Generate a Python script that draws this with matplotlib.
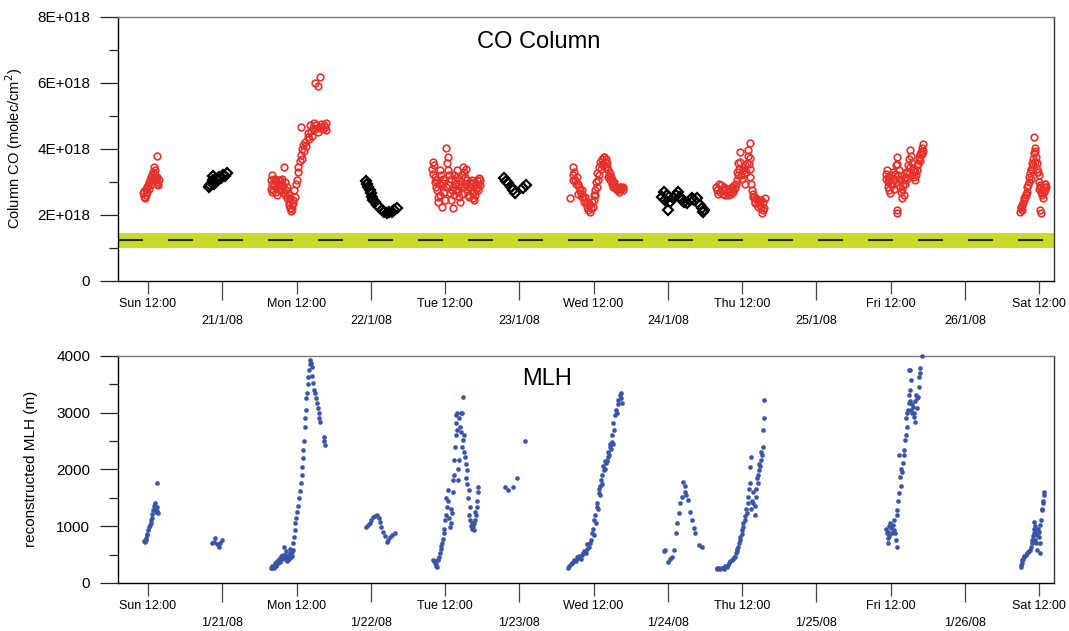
import matplotlib
matplotlib.use("Agg")
import matplotlib.pyplot as plt
import numpy as np
from matplotlib.ticker import FixedLocator, MultipleLocator, FuncFormatter

plt.rcParams['font.family'] = ['Liberation Sans', 'DejaVu Sans']

# time axis: hours since 2008-01-20 00:00
noon_hours = [12, 36, 60, 84, 108, 132, 156]
noon_labels = ['Sun 12:00', 'Mon 12:00', 'Tue 12:00', 'Wed 12:00',
               'Thu 12:00', 'Fri 12:00', 'Sat 12:00']
midnight_hours = [24, 48, 72, 96, 120, 144]
co_date_labels = ['21/1/08', '22/1/08', '23/1/08', '24/1/08', '25/1/08', '26/1/08']
mlh_date_labels = ['1/21/08', '1/22/08', '1/23/08', '1/24/08', '1/25/08', '1/26/08']

# CO column, daytime (red circles), (hour, 1E+018 molec/cm2)
co_day = [
    (11.2, 2.66), (11.3, 2.55), (11.4, 2.72), (11.5, 2.50), (11.6, 2.62), (11.7, 2.78),
    (11.8, 2.86), (11.9, 2.70), (12.0, 2.92), (12.1, 2.80), (12.2, 3.00), (12.3, 3.06),
    (12.4, 2.95), (12.5, 3.15), (12.6, 3.21), (12.7, 3.10), (12.8, 3.30), (12.9, 3.46),
    (13.0, 3.25), (13.1, 3.36), (13.2, 3.15), (13.3, 3.05), (13.4, 3.16), (13.4, 2.95),
    (13.5, 3.00), (13.6, 2.91), (13.7, 3.06), (13.4, 3.79),
    # Monday
    (31.8, 2.80), (31.9, 3.05), (32.0, 3.21), (32.1, 2.95), (32.2, 2.76), (32.4, 2.90),
    (32.5, 3.10), (32.6, 2.70), (32.8, 2.61), (32.9, 2.85), (33.0, 3.05), (33.2, 2.95),
    (33.3, 2.75), (33.5, 2.90), (33.6, 3.10), (33.9, 3.46), (33.8, 2.85), (34.0, 2.70),
    (34.1, 3.00), (34.2, 2.60), (34.4, 2.86), (34.5, 2.50), (34.7, 2.40), (34.8, 2.30),
    (34.95, 2.20), (35.1, 2.12), (35.2, 2.30), (35.3, 2.18), (35.5, 2.45), (35.6, 2.76),
    (35.75, 2.55), (35.9, 2.95), (36.0, 3.06), (36.2, 3.30), (36.3, 3.46), (36.5, 3.65),
    (36.7, 3.82), (36.8, 4.00), (36.7, 4.68), (36.9, 3.70), (37.0, 4.12), (37.2, 3.95),
    (37.4, 4.22), (37.6, 4.10), (37.8, 4.35), (37.9, 4.48), (38.0, 4.30), (38.2, 4.73),
    (38.3, 4.55), (38.5, 4.40), (38.6, 4.65), (38.8, 4.78), (39.0, 4.60), (39.2, 4.72),
    (39.4, 4.50), (39.6, 4.68), (39.8, 4.63), (40.0, 4.75), (40.2, 4.60), (40.4, 4.72),
    (40.6, 4.68), (40.8, 4.78), (40.8, 4.58), (39.0, 5.99), (39.5, 5.91), (39.8, 6.17),
    (32.0, 2.70), (32.3, 3.10), (32.7, 3.00), (33.1, 2.80), (33.4, 3.05), (33.7, 2.95),
    (34.3, 2.75), (34.6, 2.65), (35.0, 2.50), (35.4, 2.35),
    # Tuesday
    (57.9, 3.40), (58.0, 3.62), (58.1, 3.25), (58.3, 3.00), (58.4, 3.16), (58.5, 2.85),
    (58.7, 2.76), (58.8, 2.55), (58.9, 2.40), (59.1, 2.60), (59.2, 3.36), (59.3, 2.90),
    (59.5, 2.25), (59.6, 3.10), (59.7, 2.96), (59.9, 2.70), (60.0, 2.45), (60.2, 4.02),
    (60.3, 3.57), (60.4, 3.77), (60.5, 3.35), (60.6, 3.21), (60.7, 2.90), (60.8, 2.66),
    (61.0, 2.45), (61.25, 2.20), (61.3, 2.86), (61.5, 2.60), (61.6, 3.06), (61.8, 2.95),
    (61.9, 3.36), (62.0, 3.15), (62.15, 2.71), (62.3, 2.55), (62.4, 2.40), (62.6, 2.85),
    (62.8, 3.20), (62.95, 3.46), (63.1, 3.30), (63.2, 3.16), (63.4, 2.95), (63.5, 2.76),
    (63.7, 2.60), (63.9, 2.55), (64.1, 2.85), (64.3, 2.71), (64.5, 2.50), (64.6, 2.45),
    (64.8, 2.91), (65.0, 2.80), (65.1, 3.06), (65.3, 2.95), (65.5, 3.11), (65.7, 3.05),
    (58.2, 3.50), (58.6, 3.05), (59.0, 2.95), (59.4, 3.20), (59.8, 3.10), (60.1, 2.85),
    (60.9, 3.10), (61.1, 2.75), (61.4, 3.20), (61.7, 2.80), (62.2, 3.05), (62.5, 2.95),
    (62.7, 2.65), (63.0, 2.85), (63.3, 3.40), (63.6, 3.05), (63.8, 2.85), (64.0, 3.00),
    (64.2, 2.95), (64.4, 3.05), (64.7, 2.70), (64.9, 2.60), (65.2, 2.85), (65.4, 2.75),
    (65.6, 2.90),
    # Wednesday
    (80.2, 2.50), (80.6, 3.20), (80.75, 3.46), (80.9, 3.30), (81.0, 3.05), (81.3, 3.16),
    (81.4, 2.95), (81.6, 2.85), (81.8, 2.76), (82.0, 2.65), (82.2, 2.75), (82.35, 2.55),
    (82.5, 2.40), (82.7, 2.35), (82.9, 2.25), (83.1, 2.15), (83.2, 2.30), (83.4, 2.10),
    (83.6, 2.20), (83.85, 2.25), (84.0, 2.45), (84.2, 2.76), (84.3, 2.60), (84.4, 3.00),
    (84.6, 3.26), (84.7, 3.05), (84.85, 3.45), (85.05, 3.62), (85.2, 3.40), (85.4, 3.70),
    (85.6, 3.77), (85.8, 3.60), (85.9, 3.45), (86.1, 3.57), (86.3, 3.35), (86.5, 3.20),
    (86.7, 3.26), (86.9, 3.05), (87.0, 2.95), (87.2, 2.96), (87.4, 2.85), (87.6, 2.80),
    (87.75, 2.81), (88.0, 2.75), (88.2, 2.85), (88.4, 2.78), (88.55, 2.81), (88.8, 2.76),
    (80.7, 3.05), (81.1, 2.95), (81.5, 2.65), (82.1, 2.55), (82.6, 2.55), (83.0, 2.40),
    (83.3, 2.35), (83.7, 2.40), (84.1, 2.60), (84.5, 2.85), (84.9, 3.20), (85.3, 3.55),
    (85.5, 3.50), (85.7, 3.75), (86.0, 3.70), (86.2, 3.45), (86.4, 3.15), (86.6, 3.05),
    (86.8, 3.15), (87.1, 2.85), (87.3, 3.00), (87.9, 2.80), (88.1, 2.70), (88.3, 2.85),
    (88.7, 2.85),
    # Thursday
    (103.8, 2.86), (104.0, 2.75), (104.2, 2.95), (104.45, 2.71), (104.7, 2.80), (104.9, 2.65),
    (105.1, 2.75), (105.25, 2.61), (105.5, 2.70), (105.7, 2.60), (105.9, 2.80), (106.1, 2.76),
    (106.3, 2.85), (106.5, 2.70), (106.7, 2.90), (106.9, 2.81), (107.1, 3.06), (107.2, 3.30),
    (107.4, 3.57), (107.5, 3.40), (107.7, 3.92), (107.8, 3.20), (108.0, 3.10), (108.2, 3.36),
    (108.4, 3.50), (108.5, 2.95), (108.75, 3.57), (108.9, 3.80), (109.0, 3.97), (109.2, 4.17),
    (109.3, 3.72), (109.2, 3.40), (109.3, 3.16), (109.45, 2.95), (109.55, 2.76), (109.7, 2.65),
    (109.8, 2.55), (110.0, 2.40), (110.2, 2.50), (110.35, 2.45), (110.6, 2.35), (110.9, 2.30),
    (111.1, 2.45), (111.2, 2.05), (111.4, 2.40), (111.5, 2.20), (111.7, 2.50),
    (104.1, 2.65), (104.6, 2.90), (105.0, 2.85), (105.4, 2.80), (105.8, 2.70), (106.2, 2.65),
    (106.6, 2.75), (107.0, 2.95), (107.3, 3.20), (107.6, 3.60), (108.1, 3.45), (108.3, 3.25),
    (108.6, 3.30), (109.1, 3.55), (109.9, 2.55), (110.1, 2.35), (110.5, 2.25), (110.7, 2.45),
    (111.0, 2.25), (111.3, 2.15),
    # Friday
    (131.3, 3.10), (131.4, 3.36), (131.5, 3.00), (131.65, 2.86), (131.8, 2.75), (131.9, 2.66),
    (132.1, 3.20), (132.2, 2.90), (132.4, 3.30), (132.6, 2.80), (132.8, 3.50), (133.0, 3.77),
    (133.0, 2.15), (133.0, 2.05), (133.1, 3.55), (133.3, 3.36), (133.4, 3.10), (133.5, 2.86),
    (133.7, 2.70), (133.9, 2.50), (134.1, 2.61), (134.3, 2.95), (134.5, 3.15), (134.6, 3.26),
    (134.8, 3.50), (135.0, 3.70), (135.2, 3.97), (135.3, 3.80), (135.45, 3.57), (135.6, 3.35),
    (135.7, 3.16), (135.9, 3.05), (136.1, 3.20), (136.25, 3.36), (136.4, 3.55), (136.5, 3.77),
    (136.7, 3.65), (136.9, 3.90), (137.05, 4.02), (137.2, 3.95), (137.3, 4.15),
    (131.2, 3.25), (131.6, 3.15), (131.7, 3.05), (132.0, 2.95), (132.3, 3.10), (132.5, 3.05),
    (132.7, 3.25), (132.9, 3.00), (133.2, 3.20), (133.6, 3.05), (133.8, 2.80), (134.0, 2.90),
    (134.2, 3.05), (134.4, 3.30), (134.7, 3.10), (134.9, 3.25), (135.1, 3.45), (135.8, 3.40),
    (136.0, 3.30), (136.3, 3.50), (136.6, 3.70), (136.8, 3.85), (137.1, 3.85),
    # Saturday
    (152.9, 2.10), (153.1, 2.25), (153.2, 2.15), (153.4, 2.35), (153.5, 2.45), (153.7, 2.55),
    (153.8, 2.65), (154.0, 2.71), (154.1, 2.85), (154.3, 3.01), (154.4, 3.15), (154.55, 3.26),
    (154.7, 3.40), (154.8, 3.57), (154.9, 3.35), (155.0, 3.70), (155.1, 3.87), (155.2, 4.35),
    (155.3, 3.95), (155.4, 4.02), (155.5, 3.75), (155.6, 3.57), (155.7, 3.40), (155.8, 3.30),
    (155.9, 3.21), (156.0, 3.00), (156.1, 2.90), (156.2, 2.86), (156.3, 2.70), (156.4, 2.60),
    (156.5, 2.66), (156.6, 2.50), (156.2, 2.15), (156.3, 2.05), (156.7, 2.86), (156.9, 2.95),
    (157.0, 2.76), (157.1, 2.85),
    (153.0, 2.20), (153.3, 2.30), (153.6, 2.50), (153.9, 2.60), (154.2, 2.90), (154.6, 3.10),
    (155.0, 3.50), (155.3, 3.60), (155.6, 3.30), (156.0, 2.80), (156.4, 2.75), (156.8, 2.70),
    (157.0, 2.95),
]

# CO column, lunar / night measurements (black diamonds)
co_night = [
    (21.8, 2.84), (22.0, 2.92), (22.3, 2.98), (22.5, 3.05), (22.7, 2.95), (23.0, 3.10),
    (23.3, 3.05), (23.5, 3.15), (23.8, 3.12), (24.1, 3.20), (24.4, 3.18), (24.7, 3.26),
    (22.5, 3.18),
    (47.2, 3.04), (47.4, 2.95), (47.6, 2.86), (47.8, 2.75), (48.0, 2.66), (48.2, 2.55),
    (48.3, 2.45), (48.6, 2.40), (48.95, 2.30), (49.3, 2.25), (49.8, 2.15), (50.2, 2.10),
    (50.6, 2.05), (51.0, 2.10), (51.4, 2.10), (51.8, 2.15), (52.2, 2.20),
    (69.5, 3.11), (69.8, 3.02), (70.2, 2.96), (70.6, 2.85), (71.0, 2.76), (71.3, 2.66),
    (72.65, 2.81), (73.1, 2.91),
    (95.0, 2.55), (95.3, 2.71), (95.6, 2.45), (95.8, 2.61), (96.1, 2.15), (96.4, 2.40),
    (96.9, 2.50), (97.3, 2.60), (97.7, 2.71), (98.0, 2.55), (98.25, 2.45), (98.6, 2.40),
    (99.1, 2.35), (99.5, 2.45), (99.9, 2.50), (100.3, 2.45), (100.7, 2.50), (101.2, 2.30),
    (101.5, 2.20), (101.75, 2.10), (101.9, 2.15),
]

# background band and mean line (1E+018)
band_low, band_high = 1.0, 1.45
band_mean = 1.23

# reconstructed mixing layer height (hour, m)
mlh = [
    # Sunday
    (11.4, 740), (11.5, 727), (11.6, 790), (11.7, 760), (11.8, 840), (11.9, 870),
    (12.05, 933), (12.2, 990), (12.3, 1020), (12.4, 1109), (12.5, 1060), (12.6, 1150),
    (12.7, 1220), (12.85, 1285), (12.95, 1350), (13.1, 1403), (13.2, 1300), (13.3, 1250),
    (13.4, 1340), (13.4, 1755), (13.5, 1270), (13.6, 1230),
    (22.3, 699), (22.6, 720), (22.8, 787), (23.1, 690), (23.4, 640), (23.6, 700), (23.9, 757),
    # Monday
    (31.9, 270), (32.0, 258), (32.2, 290), (32.4, 300), (32.6, 320), (32.8, 346),
    (33.0, 360), (33.2, 400), (33.4, 430), (33.6, 463), (33.8, 500), (33.9, 628),
    (34.0, 450), (34.2, 420), (34.4, 434), (34.6, 470), (34.8, 500), (34.95, 522),
    (35.1, 460), (35.3, 540), (35.4, 581), (35.5, 700), (35.6, 815), (35.7, 930),
    (35.75, 1050), (35.9, 1150), (36.0, 1255), (36.2, 1350), (36.45, 1490), (36.6, 1620),
    (36.7, 1755), (36.8, 1900), (36.9, 2047), (37.0, 2200), (37.1, 2340), (37.2, 2500),
    (37.3, 2750), (37.4, 2900), (37.5, 3045), (37.6, 3250), (37.65, 3339), (37.8, 3500),
    (37.9, 3631), (38.0, 3750), (38.1, 3850), (38.2, 3925), (38.3, 3880), (38.45, 3807),
    (38.55, 3650), (38.7, 3515), (38.8, 3400), (39.0, 3339), (39.1, 3250), (39.3, 3163),
    (39.4, 3080), (39.55, 2987), (39.7, 2900), (39.8, 2839), (40.45, 2575), (40.5, 2500),
    (40.6, 2429),
    (32.1, 300), (32.3, 270), (32.5, 350), (32.7, 300), (32.9, 380), (33.1, 420),
    (33.3, 370), (33.5, 480), (33.7, 420), (34.1, 500), (34.3, 560), (34.5, 390),
    (34.7, 420), (35.0, 600), (35.2, 480),
    (47.3, 991), (47.6, 1020), (47.9, 1050), (48.1, 1100), (48.4, 1167), (48.7, 1180),
    (49.05, 1197), (49.3, 1150), (49.5, 1079), (49.7, 980), (50.0, 903), (50.3, 820),
    (50.6, 727), (50.8, 760), (51.1, 815), (51.5, 850), (51.9, 885),
    # Tuesday
    (58.1, 405), (58.3, 350), (58.65, 287), (58.9, 420), (59.2, 522), (59.5, 698),
    (59.75, 874), (60.0, 1109), (60.3, 1343), (60.4, 1637), (60.8, 991), (61.1, 1227),
    (61.3, 1813), (61.5, 2165), (61.6, 2399), (61.8, 2811), (61.9, 2987), (62.15, 1813),
    (62.3, 2165), (62.4, 2751), (62.7, 2987), (62.95, 3279), (62.9, 2517), (63.2, 2223),
    (63.5, 1989), (63.8, 1637), (64.0, 1343), (64.3, 1051), (64.6, 933), (64.8, 1109),
    (65.1, 1343), (65.4, 1695),
    (58.2, 380), (58.5, 300), (58.6, 330), (58.8, 400), (59.0, 450), (59.3, 600),
    (59.4, 650), (59.6, 780), (59.9, 950), (60.1, 1200), (60.2, 1500), (60.5, 1450),
    (60.6, 1150), (60.9, 1050), (61.0, 1300), (61.2, 1600), (61.4, 1900), (61.7, 2600),
    (61.8, 2950), (62.0, 2700), (62.1, 2000), (62.2, 2900), (62.5, 2650), (62.6, 3000),
    (62.8, 2400), (63.0, 2600), (63.1, 2300), (63.3, 2100), (63.4, 1850), (63.6, 1750),
    (63.7, 1500), (63.9, 1200), (64.1, 1100), (64.2, 1000), (64.4, 950), (64.5, 1000),
    (64.7, 1050), (64.9, 1250), (65.0, 1200), (65.2, 1450), (65.3, 1600),
    (69.7, 1695), (70.2, 1637), (71.0, 1695), (71.7, 1842), (72.9, 2499),
    # Wednesday
    (79.9, 258), (80.7, 375), (81.5, 434), (82.35, 522), (83.2, 639), (83.7, 874),
    (84.1, 1109), (84.5, 1343), (84.8, 1578), (85.2, 1813), (85.6, 1989), (86.0, 2107),
    (86.4, 2223), (86.7, 2399), (87.0, 2487), (87.2, 2811), (87.75, 2987), (87.9, 3221),
    (88.4, 3339), (88.6, 3163),
    (80.1, 300), (80.3, 330), (80.5, 360), (80.9, 400), (81.1, 380), (81.3, 450),
    (81.7, 470), (81.9, 420), (82.1, 500), (82.5, 560), (82.7, 520), (82.9, 600),
    (83.0, 680), (83.4, 700), (83.5, 760), (83.9, 950), (84.0, 850), (84.3, 1200),
    (84.4, 1050), (84.6, 1400), (84.7, 1300), (84.9, 1650), (85.0, 1700), (85.1, 1550),
    (85.3, 1900), (85.4, 1750), (85.5, 2050), (85.8, 2000), (85.9, 2150), (86.2, 2150),
    (86.3, 2300), (86.5, 2250), (86.6, 2450), (86.8, 2350), (86.9, 2600), (87.1, 2450),
    (87.3, 2700), (87.5, 2950), (87.6, 3050), (88.0, 3150), (88.2, 3300), (88.5, 3250),
    (95.6, 581), (96.1, 375), (96.6, 463), (97.0, 581), (97.3, 874), (97.5, 1050),
    (97.85, 1227), (98.25, 1519), (98.5, 1783), (98.8, 1607), (99.2, 1461), (99.6, 1255),
    (99.9, 1109), (100.2, 963), (100.4, 874), (101.0, 669), (101.5, 639),
    (95.4, 560), (96.3, 420), (98.0, 1400), (98.7, 1700), (99.0, 1550),
    # Thursday
    (103.9, 258), (104.7, 258), (105.5, 287), (106.3, 405), (106.9, 463), (107.4, 639),
    (107.7, 815), (108.2, 991), (108.75, 1227), (109.0, 1519), (109.3, 1755), (109.2, 2047),
    (109.4, 2223), (109.8, 1403), (110.0, 1200), (110.3, 1519), (110.5, 1755), (110.8, 1989),
    (111.0, 2165), (111.35, 2399), (111.45, 2693), (111.55, 2899), (111.6, 3221),
    (104.0, 240), (104.2, 270), (104.4, 250), (104.9, 270), (105.1, 250), (105.3, 300),
    (105.7, 320), (105.9, 350), (106.1, 380), (106.5, 430), (106.7, 450), (107.0, 520),
    (107.1, 560), (107.2, 600), (107.5, 700), (107.6, 760), (107.9, 870), (108.0, 940),
    (108.1, 1050), (108.4, 1100), (108.5, 1170), (108.6, 1300), (108.9, 1400), (109.1, 1650),
    (109.5, 1300), (109.6, 1450), (109.7, 1600), (110.1, 1350), (110.2, 1650), (110.4, 1850),
    (110.6, 1900), (110.7, 2100), (110.9, 2050), (111.1, 2300), (111.2, 2250),
    # Friday
    (131.4, 874), (131.65, 698), (131.9, 1050), (132.5, 933), (133.0, 639), (133.0, 1285),
    (133.3, 1578), (133.55, 1871), (133.4, 2253), (134.0, 2107), (134.2, 2341), (134.35, 2517),
    (134.6, 2751), (134.7, 2987), (134.9, 3163), (135.2, 3397), (135.25, 3573), (135.2, 3749),
    (135.7, 2927), (136.0, 2839), (136.2, 3075), (136.4, 3279), (136.6, 3631), (136.7, 3779),
    (137.05, 3995),
    (131.3, 950), (131.5, 800), (131.6, 900), (131.7, 1000), (131.8, 820), (132.0, 960),
    (132.2, 880), (132.3, 1020), (132.6, 1100), (132.7, 880), (132.8, 760), (133.1, 1200),
    (133.2, 1450), (133.6, 1700), (133.7, 2000), (133.8, 1950), (134.1, 2250), (134.4, 2600),
    (134.5, 2900), (134.8, 3050), (135.0, 3300), (135.1, 3200), (135.3, 3050), (135.4, 3000),
    (135.5, 3150), (135.6, 3100), (135.8, 3000), (135.9, 3200), (136.1, 3300), (136.3, 3250),
    (136.5, 3450), (136.8, 3700), (135.0, 3750),
    # Saturday
    (153.05, 287), (153.5, 463), (154.0, 522), (154.55, 581), (154.8, 698), (155.1, 874),
    (155.1, 1079), (155.3, 757), (155.6, 581), (155.9, 815), (156.2, 522), (156.2, 1021),
    (156.45, 1285), (156.6, 1403), (156.7, 1607),
    (153.0, 320), (153.2, 360), (153.3, 400), (153.4, 430), (153.6, 470), (153.8, 500),
    (154.2, 540), (154.4, 560), (154.7, 640), (154.9, 760), (155.0, 820), (155.2, 950),
    (155.3, 1000), (155.4, 900), (155.5, 700), (155.7, 850), (155.8, 950), (156.0, 900),
    (156.1, 700), (156.3, 1100), (156.5, 1300), (156.6, 1450), (156.8, 1550),
]

x_min, x_max = 7.15, 158.4


def style_time_axis(ax, date_labels):
    ax.set_xlim(x_min, x_max)
    ax.xaxis.set_major_locator(FixedLocator(noon_hours))
    ax.set_xticklabels(noon_labels)
    ax.xaxis.set_minor_locator(FixedLocator(midnight_hours))
    ax.set_xticklabels(date_labels, minor=True)
    ax.tick_params(axis='x', which='major', direction='out', length=9.4, width=0.9,
                   color='#444444', labelsize=9, pad=3)
    ax.tick_params(axis='x', which='minor', direction='out', length=13.7, width=0.9,
                   color='#444444', labelsize=9, pad=11)
    ax.tick_params(axis='y', which='major', direction='out', length=13, width=0.9,
                   color='#222222', labelsize=11, pad=7)
    ax.tick_params(axis='y', which='minor', direction='out', length=6.5, width=0.9,
                   color='#222222')
    ax.spines['top'].set_color('#777777')
    ax.spines['right'].set_color('#333333')
    for s in ax.spines.values():
        s.set_linewidth(1.0)


fig = plt.figure(figsize=(10.69, 6.31), dpi=100)
ax1 = fig.add_axes([0.1104, 0.5547, 0.8756, 0.4184])
ax2 = fig.add_axes([0.1104, 0.0761, 0.8756, 0.3602])

# --- CO column panel ---
ax1.axhspan(band_low * 1e18, band_high * 1e18, color='#c9da2b', lw=0, zorder=1)
ax1.axhline(band_mean * 1e18, color='#222222', lw=1.5, dashes=(12, 12), zorder=2)

d = np.array(co_day)
ax1.plot(d[:, 0], d[:, 1] * 1e18, ls='none', marker='o', ms=4.8, mfc='none',
         mec='#e8312b', mew=1.2, zorder=3)
n = np.array(co_night)
ax1.plot(n[:, 0], n[:, 1] * 1e18, ls='none', marker='D', ms=4.6, mfc='none',
         mec='black', mew=1.6, zorder=3)

ax1.set_ylim(0, 8e18)
ax1.yaxis.set_major_locator(MultipleLocator(2e18))
ax1.yaxis.set_minor_locator(MultipleLocator(1e18))
ax1.yaxis.set_major_formatter(FuncFormatter(
    lambda v, p: '0' if v == 0 else '%dE+018' % round(v / 1e18)))
style_time_axis(ax1, co_date_labels)
ax1.set_ylabel('Column CO (molec/cm$^2$)', fontsize=10.5)
ax1.yaxis.set_label_coords(-0.099, 0.5)
ax1.text(0.449, 0.905, 'CO Column', transform=ax1.transAxes, ha='center',
         va='center', fontsize=17)

# --- MLH panel ---
m = np.array(mlh)
ax2.plot(m[:, 0], m[:, 1], ls='none', marker='o', ms=3.0, color='#3a55a5',
         mec='#3a55a5', mew=0.3, zorder=3, clip_on=False)
ax2.set_ylim(0, 4000)
ax2.yaxis.set_major_locator(MultipleLocator(1000))
ax2.yaxis.set_minor_locator(MultipleLocator(500))
style_time_axis(ax2, mlh_date_labels)
ax2.set_ylabel('reconstructed MLH (m)', fontsize=11)
ax2.yaxis.set_label_coords(-0.085, 0.5)
ax2.text(0.458, 0.897, 'MLH', transform=ax2.transAxes, ha='center',
         va='center', fontsize=17)

fig.savefig('out.png', dpi=100)
